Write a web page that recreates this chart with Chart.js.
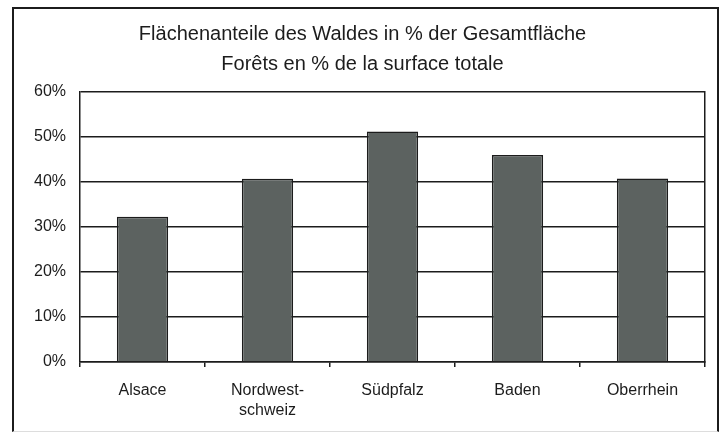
<!DOCTYPE html>
<html>
<head>
<meta charset="utf-8">
<script src="https://cdn.jsdelivr.net/npm/chart.js@4.4.0/dist/chart.umd.min.js"></script>
<style>
    html, body { margin: 0; padding: 0; background: #fff; }
    #wrap { position: relative; width: 724px; height: 434px; }
    #frame {
        position: absolute; left: 12px; top: 7px; width: 703px; height: 422px;
        border: 2px solid #1c1c1c; border-bottom: 1px solid #ddd;
    }
    #wrap canvas { position: absolute; left: 0; top: 0; }
</style>
</head>
<body>
<div id="wrap">
    <div id="frame"></div>
    <canvas id="main-chart" width="724" height="434"></canvas>
</div>
<script>
const categories = ['Alsace', ['Nordwest-', 'schweiz'], 'Südpfalz', 'Baden', 'Oberrhein'];
const forestShare = [32.3, 40.7, 51.2, 46.0, 40.8];
const yTicks = [0, 10, 20, 30, 40, 50, 60];

document.addEventListener('DOMContentLoaded', function () {
    const ink = '#1c1c1c';

    new Chart(document.getElementById('main-chart'), {
        type: 'bar',
        data: {
            labels: categories,
            datasets: [
                {
                    label: 'Wald',
                    data: forestShare,
                    backgroundColor: '#5c6260',
                    borderColor: ink,
                    borderWidth: 1.5,
                    categoryPercentage: 1,
                    barPercentage: 0.41
                }
            ]
        },
        options: {
            responsive: false,
            animation: false,
            layout: {
                padding: { left: 20, right: 19, top: 8, bottom: 0 }
            },
            plugins: {
                legend: { display: false },
                tooltip: { enabled: false },
                title: {
                    display: true,
                    text: ['Flächenanteile des Waldes in % der Gesamtfläche', 'Forêts en % de la surface totale'],
                    color: ink,
                    font: { family: 'Liberation Sans', size: 20, weight: 'normal', lineHeight: 1.5 },
                    padding: { top: 11, bottom: 13 }
                }
            },
            scales: {
                x: {
                    grid: {
                        offset: true,
                        drawOnChartArea: false,
                        color: ink,
                        lineWidth: 1.5,
                        tickLength: 5
                    },
                    border: { color: ink, width: 1.5 },
                    ticks: {
                        color: ink,
                        padding: 14,
                        maxRotation: 0,
                        font: { family: 'Liberation Sans', size: 16, lineHeight: 1.25 }
                    },
                    afterFit: function (scale) { scale.height = 72; }
                },
                y: {
                    min: 0,
                    max: 60,
                    afterBuildTicks: function (scale) {
                        scale.ticks = yTicks.map(v => ({ value: v }));
                    },
                    grid: {
                        color: ink,
                        lineWidth: 1.5,
                        drawTicks: false
                    },
                    border: { color: ink, width: 1.5 },
                    ticks: {
                        color: ink,
                        padding: 14,
                        font: { family: 'Liberation Sans', size: 16 },
                        callback: v => v + '%'
                    },
                    afterFit: function (scale) { scale.width = 60; }
                },
                y2: {
                    position: 'right',
                    min: 0,
                    max: 60,
                    grid: { drawOnChartArea: false, drawTicks: false },
                    border: { color: ink, width: 1.5 },
                    ticks: { display: false },
                    afterFit: function (scale) { scale.width = 0; }
                }
            }
        }
    });
});
</script>
</body>
</html>
